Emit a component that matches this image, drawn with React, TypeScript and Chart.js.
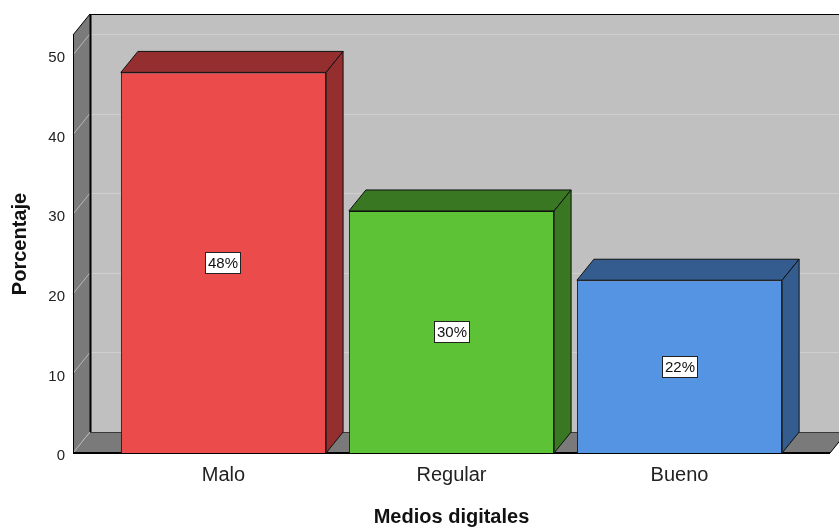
import { useEffect, useRef } from "react";
import { Chart, registerables } from "chart.js";

Chart.register(...registerables);

// Percentage of respondents per rating of digital media (n = 46)
const categories = ["Malo", "Regular", "Bueno"];
const percentages = [47.8, 30.4, 21.7];
const valueLabels = ["48%", "30%", "22%"];
const frontColors = ["#EC4B4C", "#5DC236", "#5594E3"];
const shadeColors = ["#952E2F", "#3A7722", "#345C8F"];
const yTicks = [0, 10, 20, 30, 40, 50];
const yMax = 52.5;
const xMin = -0.66;
const xMax = 2.66;

// 3D depth offset of the back plane
const DX = 17;
const DY = -21;
const FONT = '"Liberation Sans", Arial, sans-serif';

function poly(ctx: CanvasRenderingContext2D, pts: number[][], fill: string, stroke?: string) {
  ctx.beginPath();
  ctx.moveTo(pts[0][0], pts[0][1]);
  for (let i = 1; i < pts.length; i++) ctx.lineTo(pts[i][0], pts[i][1]);
  ctx.closePath();
  ctx.fillStyle = fill;
  ctx.fill();
  if (stroke) {
    ctx.strokeStyle = stroke;
    ctx.lineWidth = 1;
    ctx.stroke();
  }
}

function line(ctx: CanvasRenderingContext2D, x1: number, y1: number, x2: number, y2: number, color: string, w = 1) {
  ctx.beginPath();
  ctx.moveTo(x1, y1);
  ctx.lineTo(x2, y2);
  ctx.strokeStyle = color;
  ctx.lineWidth = w;
  ctx.stroke();
}

const box3d = {
  id: "box3d",
  beforeDatasetsDraw(chart: any) {
    const { ctx, chartArea, scales } = chart;
    const { left, right, top, bottom } = chartArea;
    const y = scales.y;
    ctx.save();
    // back wall
    ctx.fillStyle = "#C0C0C0";
    ctx.fillRect(left + DX, top + DY, right - left, bottom - top);
    // grid lines on the back wall
    for (const v of yTicks) {
      if (v === 0) continue;
      const p = Math.round(y.getPixelForValue(v)) + DY + 0.5;
      line(ctx, left + DX, p, right + DX, p, "#D0D0D0");
    }
    // left wall
    poly(ctx, [[left, top], [left + DX, top + DY], [left + DX, bottom + DY], [left, bottom]], "#7A7A7A");
    // floor
    poly(ctx, [[left, bottom], [left + DX, bottom + DY], [right + DX, bottom + DY], [right, bottom]], "#7A7A7A");
    // tick lines across the left wall
    for (const v of yTicks) {
      const p = y.getPixelForValue(v);
      line(ctx, left, p, left + DX, p + DY, "#B8B8B8");
    }
    // edges
    line(ctx, left + DX, bottom + DY + 0.5, right + DX, bottom + DY + 0.5, "#3A3A3A");
    line(ctx, left + 0.5, top, left + 0.5, bottom, "#000");
    line(ctx, left + DX + 0.5, top + DY, left + DX + 0.5, bottom + DY, "#000", 2);
    line(ctx, left, top, left + DX, top + DY, "#000");
    line(ctx, left + DX, top + DY + 0.5, right + DX, top + DY + 0.5, "#000");
    line(ctx, left, bottom, right, bottom, "#000", 2);
    line(ctx, right, bottom, right + DX, bottom + DY, "#000");
    ctx.restore();
  },
  afterDatasetsDraw(chart: any) {
    const { ctx } = chart;
    const meta = chart.getDatasetMeta(0);
    ctx.save();
    meta.data.forEach((bar: any, i: number) => {
      const { x, y, base, width } = bar.getProps(["x", "y", "base", "width"], true);
      const l = x - width / 2;
      const r = x + width / 2;
      // top and side faces
      poly(ctx, [[l, y], [l + DX, y + DY], [r + DX, y + DY], [r, y]], shadeColors[i], "#111");
      poly(ctx, [[r, y], [r + DX, y + DY], [r + DX, base + DY], [r, base]], shadeColors[i], "#111");
      // value label
      const text = valueLabels[i];
      ctx.font = `15px ${FONT}`;
      const tw = ctx.measureText(text).width;
      const bw = Math.round(tw + 6);
      const bh = 22;
      const cx = Math.round(x);
      const cy = Math.round((y + base) / 2);
      const bx = cx - Math.round(bw / 2);
      const by = cy - Math.round(bh / 2);
      ctx.fillStyle = "#FFFFFF";
      ctx.fillRect(bx, by, bw, bh);
      ctx.strokeStyle = "#222";
      ctx.lineWidth = 1;
      ctx.strokeRect(bx + 0.5, by + 0.5, bw - 1, bh - 1);
      ctx.fillStyle = "#111";
      ctx.textAlign = "center";
      ctx.textBaseline = "middle";
      ctx.fillText(text, cx, cy + 1);
    });
    ctx.restore();
  },
};

export default function App() {
  const canvasRef = useRef<HTMLCanvasElement>(null);

  useEffect(() => {
    document.body.style.margin = "0";
    const canvas = canvasRef.current;
    if (!canvas) return;
    const chart = new Chart(canvas, {
      type: "bar",
      data: {
        datasets: [
          {
            data: percentages.map((v, i) => ({ x: i, y: v })),
            backgroundColor: frontColors,
            borderColor: "#111",
            borderWidth: 1,
            barPercentage: 0.9,
            categoryPercentage: 1,
          },
        ],
      },
      options: {
        responsive: false,
        animation: false,
        devicePixelRatio: 1,
        layout: { padding: { top: 35, right: 9, left: 0, bottom: 0 } },
        plugins: { legend: { display: false }, tooltip: { enabled: false } },
        scales: {
          x: {
            type: "linear",
            min: xMin,
            max: xMax,
            bounds: "data",
            offset: false,
            afterBuildTicks: (s: any) => {
              s.ticks = categories.map((_, i) => ({ value: i }));
            },
            afterFit: (s: any) => {
              s.height = 74;
            },
            ticks: {
              callback: (v: any) => categories[v] ?? "",
              font: { family: FONT, size: 20 },
              color: "#222",
              padding: 10,
              autoSkip: false,
              maxRotation: 0,
              includeBounds: false,
            },
            grid: { display: false, drawTicks: false, offset: false },
            border: { display: false },
            title: {
              display: true,
              text: "Medios digitales",
              font: { family: FONT, size: 20, weight: "bold", lineHeight: 1 },
              color: "#111",
              padding: { top: 0, bottom: 0 },
            },
          },
          y: {
            min: 0,
            max: yMax,
            afterFit: (s: any) => {
              s.width = 73;
            },
            ticks: {
              stepSize: 10,
              includeBounds: false,
              labelOffset: 3,
              font: { family: FONT, size: 15 },
              color: "#222",
              padding: 8,
            },
            grid: { display: false, drawTicks: false },
            border: { display: false },
            title: {
              display: true,
              text: "Porcentaje",
              font: { family: FONT, size: 20, weight: "bold" },
              color: "#111",
              padding: { top: 8, bottom: 0 },
            },
          },
        },
      } as any,
      plugins: [box3d],
    });
    return () => chart.destroy();
  }, []);

  return (
    <div style={{ width: 839, height: 527, background: "#fff" }}>
      <canvas ref={canvasRef} width={839} height={527} />
    </div>
  );
}
